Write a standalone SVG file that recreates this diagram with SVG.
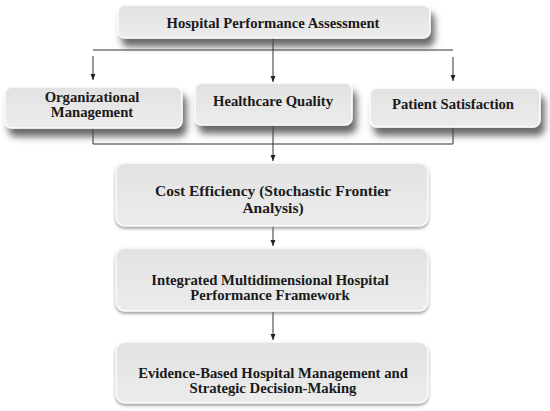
<svg xmlns="http://www.w3.org/2000/svg" width="550" height="411" viewBox="0 0 550 411">
<defs>
  <linearGradient id="boxFill" x1="0" y1="0" x2="0" y2="1">
    <stop offset="0" stop-color="#e2e2e2"/>
    <stop offset="1" stop-color="#ececec"/>
  </linearGradient>
  <filter id="heavyShadow" x="-10%" y="-20%" width="125%" height="170%">
    <feDropShadow dx="4" dy="8" stdDeviation="3.5" flood-color="#444" flood-opacity="0.8"/>
  </filter>
  <filter id="softShadow" x="-10%" y="-20%" width="125%" height="150%">
    <feDropShadow dx="0" dy="2" stdDeviation="1.5" flood-color="#777" flood-opacity="0.7"/>
  </filter>
  <marker id="arrow" viewBox="0 0 6 6" refX="6" refY="3" markerWidth="6" markerHeight="6" markerUnits="userSpaceOnUse" orient="auto">
    <path d="M0,0.5 L6,3 L0,5.5 Z" fill="#222"/>
  </marker>
</defs>
<style>
  .box { fill: url(#boxFill); stroke: #fbfbfb; stroke-width: 1.5; }
  .row { filter: url(#heavyShadow); }
  .main { filter: url(#softShadow); }
  .pal { font-family: "Liberation Serif", "DejaVu Serif", serif; font-weight: bold; font-size: 14.7px; fill: #1a1a1a; text-anchor: middle; dominant-baseline: central; }
  .tim { font-family: "Liberation Serif", "Times New Roman", serif; font-weight: bold; font-size: 15.5px; fill: #1a1a1a; text-anchor: middle; dominant-baseline: central; }
  .conn { stroke: #333; stroke-width: 1; fill: none; }
</style>

<g id="connectors">
  <line class="conn" x1="273" y1="38" x2="273" y2="82" marker-end="url(#arrow)"/>
  <line class="conn" x1="93" y1="50" x2="453" y2="50"/>
  <line class="conn" x1="93" y1="56" x2="93" y2="80" marker-end="url(#arrow)"/>
  <line class="conn" x1="453" y1="57" x2="453" y2="81" marker-end="url(#arrow)"/>
  <polyline class="conn" points="93,128 93,144 453,144 453,127"/>
  <line class="conn" x1="273" y1="125" x2="273" y2="161" marker-end="url(#arrow)"/>
  <line class="conn" x1="273" y1="226" x2="273" y2="246" marker-end="url(#arrow)"/>
  <line class="conn" x1="273" y1="311" x2="273" y2="340" marker-end="url(#arrow)"/>
</g>

<g id="node-hospital-performance-assessment">
  <rect class="box row" x="118" y="5" width="312" height="33" rx="7"/>
  <text class="pal" x="273" y="23">Hospital Performance Assessment</text>
</g>

<g id="node-organizational-management">
  <rect class="box row" x="5" y="87" width="177" height="41" rx="7"/>
  <text class="pal" x="92" y="97">Organizational</text>
  <text class="pal" x="92" y="112">Management</text>
</g>

<g id="node-healthcare-quality">
  <rect class="box row" x="195" y="83" width="157" height="42" rx="7"/>
  <text class="pal" x="273" y="101">Healthcare Quality</text>
</g>

<g id="node-patient-satisfaction">
  <rect class="box row" x="370" y="88" width="170" height="39" rx="7"/>
  <text class="pal" x="453" y="104">Patient Satisfaction</text>
</g>

<g id="node-cost-efficiency">
  <rect class="box main" x="116" y="163" width="312" height="63" rx="9"/>
  <text class="tim" x="273" y="190">Cost Efficiency (Stochastic Frontier</text>
  <text class="tim" x="273" y="207">Analysis)</text>
</g>

<g id="node-integrated-framework">
  <rect class="box main" x="116" y="248" width="312" height="63" rx="9"/>
  <text class="pal" x="270" y="280">Integrated Multidimensional Hospital</text>
  <text class="pal" x="270" y="295">Performance Framework</text>
</g>

<g id="node-evidence-based">
  <rect class="box main" x="116" y="342" width="312" height="61" rx="9"/>
  <text class="pal" x="273" y="373">Evidence-Based Hospital Management and</text>
  <text class="pal" x="273" y="388">Strategic Decision-Making</text>
</g>
</svg>
